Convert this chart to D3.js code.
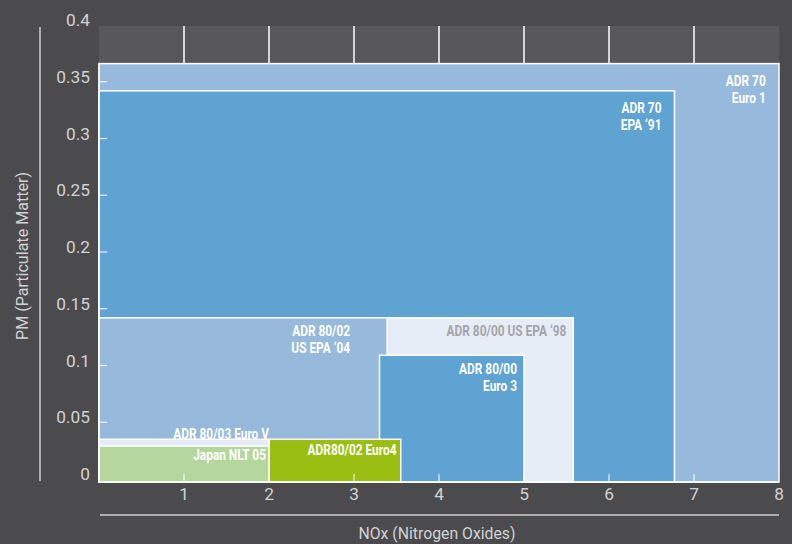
<!DOCTYPE html>
<html><head><meta charset="utf-8">
<script src="https://cdn.jsdelivr.net/npm/d3@7"></script>
<style>
html,body{margin:0;padding:0;background:#4b4b4d;}
svg{display:block;}
text{font-family:"Roboto","Liberation Sans",sans-serif;}
</style></head>
<body>
<svg id="chart" width="792" height="544"></svg>
<script>
// ---- data ----
const standards = ["ADR 70 Euro 1","ADR 70 EPA '91","ADR 80/00 US EPA '98","ADR 80/02 US EPA '04","ADR 80/00 Euro 3","ADR80/02 Euro4","ADR 80/03 Euro V","Japan NLT 05"];
const noxFrom = [0, 0, 0, 0, 3.3, 2.0, 0, 0];
const noxTo   = [8.0, 6.77, 5.58, 3.39, 5.0, 3.55, 2.0, 2.0];
const pmLimit = [0.366, 0.342, 0.142, 0.142, 0.109, 0.035, 0.035, 0.029];
const labelLines = [["ADR 70","Euro 1"],["ADR 70","EPA \u201891"],["ADR 80/00 US EPA \u201898"],["ADR 80/02","US EPA \u201804"],["ADR 80/00","Euro 3"],["ADR80/02 Euro4"],["ADR 80/03 Euro V"],["Japan NLT 05"]];
const xTicks = [1,2,3,4,5,6,7,8];
const yTicks = [0,0.05,0.1,0.15,0.2,0.25,0.3,0.35,0.4];
const xTitle = "NOx (Nitrogen Oxides)";
const yTitle = "PM (Particulate Matter)";

// ---- styles ----
const fills = ["#97b9dc","#5fa3d3","#e7edf7","#97b9dc","#5fa3d3","#9abf12","#e7edf7","#b5d69d"];
const labelColors = ["#fff","#fff","#a3a5a9","#fff","#fff","#fff","#fff","#fff"];
// label placement (dx from right edge, dy from top edge of rect)
const labelDx = [13.3,13,7,37,7,4.3,0,3];
const labelDy = [4.5,4.3,0.5,0.5,0.8,-1.8,-18,-4.3];

const svg = d3.select("#chart");
const L = 99, R = 779, T = 25, B = 482;
const x = d3.scaleLinear().domain([0,8]).range([L,R]);
const y = d3.scaleLinear().domain([0,0.4]).range([479,T]);

// plot background
svg.append("rect").attr("x",L).attr("y",T+1).attr("width",R-L).attr("height",B-T-1).attr("fill","#58585a");

// vertical gridlines (visible above rects)
svg.append("g").selectAll("line").data(xTicks.filter(d=>d<8)).join("line")
  .attr("x1",d=>x(d)).attr("x2",d=>x(d)).attr("y1",T+1).attr("y2",B)
  .attr("stroke","#ffffff").attr("stroke-width",1.5);

// rects
const idx = d3.range(standards.length);
svg.append("g").selectAll("rect").data(idx).join("rect")
  .attr("x",i=>x(noxFrom[i]))
  .attr("y",i=>y(pmLimit[i]))
  .attr("width",i=>x(noxTo[i])-x(noxFrom[i]))
  .attr("height",i=>B-y(pmLimit[i]))
  .attr("fill",i=>fills[i])
  .attr("stroke","#ffffff").attr("stroke-width",1.5);

// labels (condensed via horizontal scale)
const lg = svg.append("g");
idx.forEach(i=>{
  const g = lg.append("g")
    .attr("transform",`translate(${x(noxTo[i])-labelDx[i]},${y(pmLimit[i])+labelDy[i]+18}) scale(0.82,1)`);
  const t = g.append("text")
    .attr("text-anchor","end")
    .attr("fill",labelColors[i])
    .attr("font-weight","bold")
    .attr("font-size",14.5);
  labelLines[i].forEach((s,k)=>{
    t.append("tspan").attr("x",0).attr("dy",k===0?0:16.5).text(s);
  });
});

// y ticks inside
svg.append("g").selectAll("line").data(yTicks.filter(d=>d>0&&d<0.4)).join("line")
  .attr("x1",L).attr("x2",L+8).attr("y1",d=>y(d)).attr("y2",d=>y(d))
  .attr("stroke","#ffffff").attr("stroke-opacity",0.85).attr("stroke-width",1.2);
// x ticks inside
svg.append("g").selectAll("line").data(xTicks.filter(d=>d<8)).join("line")
  .attr("x1",d=>x(d)).attr("x2",d=>x(d)).attr("y1",B).attr("y2",B-8)
  .attr("stroke","#ffffff").attr("stroke-opacity",0.85).attr("stroke-width",1.2);

// bottom line of plot
svg.append("line").attr("x1",L).attr("x2",R).attr("y1",B).attr("y2",B).attr("stroke","#fff").attr("stroke-width",1.5);
svg.append("line").attr("x1",L).attr("x2",L).attr("y1",y(pmLimit[0])).attr("y2",B).attr("stroke","#fff").attr("stroke-width",1.2);

// y tick labels
svg.append("g").selectAll("text").data(yTicks).join("text")
  .attr("x",90).attr("y",d=>y(d)-5).attr("dy","0.35em")
  .attr("text-anchor","end").attr("fill","#d2d2d4").attr("font-size",17.3)
  .text(d=>d3.format("")(d));
// x tick labels
svg.append("g").selectAll("text").data(xTicks).join("text")
  .attr("x",d=>x(d)).attr("y",494).attr("dy","0.35em")
  .attr("text-anchor","middle").attr("fill","#d2d2d4").attr("font-size",17.3)
  .text(d=>d);

// axis side lines
svg.append("line").attr("x1",40).attr("x2",40).attr("y1",27).attr("y2",481).attr("stroke","#cfcfd1").attr("stroke-width",1.5);
svg.append("line").attr("x1",100).attr("x2",R).attr("y1",515).attr("y2",515).attr("stroke","#cfcfd1").attr("stroke-width",1.5);

// titles
svg.append("text").attr("x",437).attr("y",533).attr("dy","0.35em").attr("text-anchor","middle")
  .attr("fill","#d2d2d4").attr("font-size",17.3)
  .attr("textLength",157).attr("lengthAdjust","spacingAndGlyphs").text(xTitle);
svg.append("text").attr("transform","translate(22,256) rotate(-90)").attr("dy","0.35em").attr("text-anchor","middle")
  .attr("fill","#d2d2d4").attr("font-size",17.3)
  .attr("textLength",168).attr("lengthAdjust","spacingAndGlyphs").text(yTitle);
</script>
</body></html>
